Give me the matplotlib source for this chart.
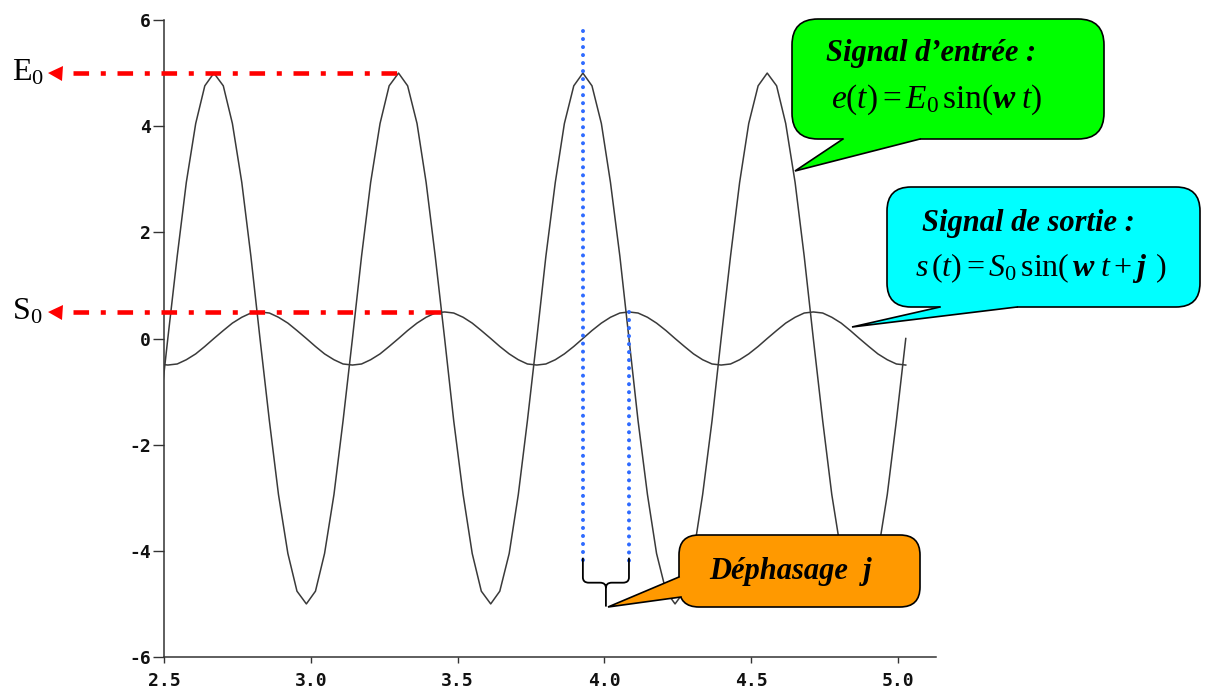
import matplotlib
matplotlib.use("Agg")
import matplotlib.pyplot as plt
from matplotlib.patches import FancyBboxPatch, Polygon, PathPatch
from matplotlib.path import Path

# ---------------- data ----------------
t = [2.482, 2.513, 2.545, 2.576, 2.608, 2.639, 2.670, 2.702, 2.733, 2.765,
     2.796, 2.827, 2.859, 2.890, 2.922, 2.953, 2.985, 3.016, 3.047, 3.079,
     3.110, 3.142, 3.173, 3.204, 3.236, 3.267, 3.299, 3.330, 3.362, 3.393,
     3.424, 3.456, 3.487, 3.519, 3.550, 3.581, 3.613, 3.644, 3.676, 3.707,
     3.738, 3.770, 3.801, 3.833, 3.864, 3.896, 3.927, 3.958, 3.990, 4.021,
     4.053, 4.084, 4.115, 4.147, 4.178, 4.210, 4.241, 4.273, 4.304, 4.335,
     4.367, 4.398, 4.430, 4.461, 4.492, 4.524, 4.555, 4.587, 4.618, 4.650,
     4.681, 4.712, 4.744, 4.775, 4.807, 4.838, 4.869, 4.901, 4.932, 4.964,
     4.995, 5.027]

entree = [-1.55, 0.00, 1.55, 2.94, 4.05, 4.76, 5.00, 4.76, 4.05, 2.94,
          1.55, 0.00, -1.55, -2.94, -4.05, -4.76, -5.00, -4.76, -4.05, -2.94,
          -1.55, 0.00, 1.55, 2.94, 4.05, 4.76, 5.00, 4.76, 4.05, 2.94,
          1.55, 0.00, -1.55, -2.94, -4.05, -4.76, -5.00, -4.76, -4.05, -2.94,
          -1.55, 0.00, 1.55, 2.94, 4.05, 4.76, 5.00, 4.76, 4.05, 2.94,
          1.55, 0.00, -1.55, -2.94, -4.05, -4.76, -5.00, -4.76, -4.05, -2.94,
          -1.55, 0.00, 1.55, 2.94, 4.05, 4.76, 5.00, 4.76, 4.05, 2.94,
          1.55, 0.00, -1.55, -2.94, -4.05, -4.76, -5.00, -4.76, -4.05, -2.94,
          -1.55, 0.00]

sortie = [-0.48, -0.50, -0.48, -0.40, -0.29, -0.15, 0.00, 0.15, 0.29, 0.40,
          0.48, 0.50, 0.48, 0.40, 0.29, 0.15, 0.00, -0.15, -0.29, -0.40,
          -0.48, -0.50, -0.48, -0.40, -0.29, -0.15, 0.00, 0.15, 0.29, 0.40,
          0.48, 0.50, 0.48, 0.40, 0.29, 0.15, 0.00, -0.15, -0.29, -0.40,
          -0.48, -0.50, -0.48, -0.40, -0.29, -0.15, 0.00, 0.15, 0.29, 0.40,
          0.48, 0.50, 0.48, 0.40, 0.29, 0.15, 0.00, -0.15, -0.29, -0.40,
          -0.48, -0.50, -0.48, -0.40, -0.29, -0.15, 0.00, 0.15, 0.29, 0.40,
          0.48, 0.50, 0.48, 0.40, 0.29, 0.15, 0.00, -0.15, -0.29, -0.40,
          -0.48, -0.50]

x_ticks = [2.5, 3.0, 3.5, 4.0, 4.5, 5.0]
x_tick_labels = ["2.5", "3.0", "3.5", "4.0", "4.5", "5.0"]
y_ticks = [-6, -4, -2, 0, 2, 4, 6]
y_tick_labels = ["-6", "-4", "-2", "0", "2", "4", "6"]

E0 = 5.0           # amplitude of input
S0 = 0.5           # amplitude of output
t_E0_peak = 3.299  # input peak reached by the E0 guide line
t_S0_peak = 3.456  # output peak reached by the S0 guide line
t_phase = [3.927, 4.084]  # input peak / following output peak

# ---------------- figure ----------------
plt.rcParams['axes.unicode_minus'] = False
plt.rcParams['mathtext.fontset'] = 'custom'
plt.rcParams['mathtext.rm'] = 'Liberation Serif'
plt.rcParams['mathtext.it'] = 'Liberation Serif:italic'
plt.rcParams['mathtext.bf'] = 'Liberation Serif:bold:italic'

W, H = 1205, 688
fig = plt.figure(figsize=(W / 100, H / 100), dpi=100)
fig.patch.set_facecolor('white')

ax_l, ax_r, ax_t, ax_b = 164, 936, 20, 657
ax = fig.add_axes([ax_l / W, 1 - ax_b / H, (ax_r - ax_l) / W, (ax_b - ax_t) / H])
ax.set_xlim(2.5, 5.13)
ax.set_ylim(-6, 6)
for s in ('top', 'right'):
    ax.spines[s].set_visible(False)
for s in ('left', 'bottom'):
    ax.spines[s].set_color('#333333')
    ax.spines[s].set_linewidth(1.1)

ax.set_xticks(x_ticks)
ax.set_xticklabels(x_tick_labels)
ax.set_yticks(y_ticks)
ax.set_yticklabels(y_tick_labels)
for lab in ax.get_xticklabels() + ax.get_yticklabels():
    lab.set_fontfamily('DejaVu Sans Mono')
    lab.set_fontweight('bold')
    lab.set_fontsize(13)
    lab.set_color('#111111')
ax.tick_params(axis='x', direction='out', length=4.5, width=1, color='#333333', pad=6)
ax.tick_params(axis='y', direction='out', length=8, width=1, color='#333333', pad=1.5)

# curves
ax.plot(t, entree, color='#3a3a3a', lw=1.1, zorder=3)
ax.plot(t, sortie, color='#3a3a3a', lw=1.1, zorder=3)

# red dash-dot guide lines with arrow heads (extend outside the axes)
x_line_start = 2.190
x_arrow = 2.130
red_ls = (0, (3.4, 2.55, 1.1, 2.55))
for amp, tp in ((E0, t_E0_peak), (S0, t_S0_peak)):
    ax.plot([x_line_start, tp], [amp, amp], color='#FF0000', lw=3.3,
            linestyle=red_ls, dash_capstyle='butt', clip_on=False, zorder=4)
    ax.plot([x_arrow], [amp], marker='<', color='#FF0000', markersize=10.8,
            markeredgewidth=0, clip_on=False, zorder=4)

# blue dotted vertical lines for the phase shift
blue = '#2F6BFF'
ax.plot([t_phase[0], t_phase[0]], [5.79, -4.25], color=blue, lw=2.9,
        linestyle=(0, (0.01, 1.98)), dash_capstyle='round', zorder=4)
ax.plot([t_phase[1], t_phase[1]], [S0, -4.25], color=blue, lw=2.9,
        linestyle=(0, (0.01, 1.98)), dash_capstyle='round', zorder=4)

# brace under the dotted lines
x1, x2 = t_phase
xc = (x1 + x2) / 2
ytop, ybend, ybot = -4.13, -4.60, -5.05
dx, dy = 0.02, 0.10
verts = [(x1, ytop), (x1, ybend + dy), (x1, ybend), (x1 + dx, ybend),
         (xc - dx, ybend), (xc, ybend), (xc, ybend - dy), (xc, ybot),
         (x2, ytop), (x2, ybend + dy), (x2, ybend), (x2 - dx, ybend),
         (xc + dx, ybend), (xc, ybend), (xc, ybend - dy)]
codes = [Path.MOVETO, Path.LINETO, Path.CURVE3, Path.CURVE3,
         Path.LINETO, Path.CURVE3, Path.CURVE3, Path.LINETO,
         Path.MOVETO, Path.LINETO, Path.CURVE3, Path.CURVE3,
         Path.LINETO, Path.CURVE3, Path.CURVE3]
ax.add_patch(PathPatch(Path(verts, codes), facecolor='none', edgecolor='black',
                       lw=1.3, zorder=4))

# ---------------- overlay for callouts / labels (pixel coordinates) ----------------
ov = fig.add_axes([0, 0, 1, 1], zorder=5)
ov.set_xlim(0, W)
ov.set_ylim(H, 0)
ov.axis('off')
ov.patch.set_alpha(0)


def callout(x0, y0, x1_, y1_, r, color, base1, tip, base2, inner1, inner2):
    box = FancyBboxPatch((x0, y0), x1_ - x0, y1_ - y0,
                         boxstyle=f"round,pad=0,rounding_size={r}",
                         facecolor=color, edgecolor='black', lw=1.2, zorder=1)
    ov.add_patch(box)
    ov.add_patch(Polygon([inner1, base1, tip, base2, inner2], closed=True,
                         facecolor=color, edgecolor='none', zorder=2))
    ov.plot([base1[0], tip[0], base2[0]], [base1[1], tip[1], base2[1]],
            color='black', lw=1.2, zorder=3, solid_joinstyle='miter')


# green : input signal
callout(792, 19, 1104, 139, 26, '#00FF00',
        (843, 139), (795, 171), (920, 139), (843, 134), (920, 134))
ov.text(931, 53, "Signal d’entrée :", family='Liberation Serif', weight='bold',
        style='italic', fontsize=22, ha='center', va='center', zorder=4)
ov.text(937, 100, r'$e(t) = E_0\,\mathrm{sin}(\mathbf{w}\;t)$',
        fontsize=24, ha='center', va='center', zorder=4)

# cyan : output signal
callout(887, 187, 1200, 307, 24, '#00FFFF',
        (940, 307), (852, 327), (1017, 307), (940, 302), (1017, 302))
ov.text(1028, 223, "Signal de sortie :", family='Liberation Serif', weight='bold',
        style='italic', fontsize=22, ha='center', va='center', zorder=4)
ov.text(1041, 268, r'$s\,(t) = S_0\,\mathrm{sin}(\,\mathbf{w}\;t + \mathbf{j}\;\,)$',
        fontsize=23, ha='center', va='center', zorder=4)

# orange : phase shift
callout(679, 535, 920, 607, 20, '#FF9900',
        (679, 577), (608, 607), (681, 597), (686, 577), (688, 597))
ov.text(791, 572, "Déphasage  j", family='Liberation Serif', weight='bold',
        style='italic', fontsize=22, ha='center', va='center', zorder=4)

# E0 / S0 labels
ov.text(12, 73, r'$\mathregular{E_0}$', family='Liberation Serif', fontsize=23,
        ha='left', va='center', zorder=4)
ov.text(12, 312, r'$\mathregular{S_0}$', family='Liberation Serif', fontsize=23,
        ha='left', va='center', zorder=4)

fig.savefig('out.png', dpi=100, facecolor='white')
